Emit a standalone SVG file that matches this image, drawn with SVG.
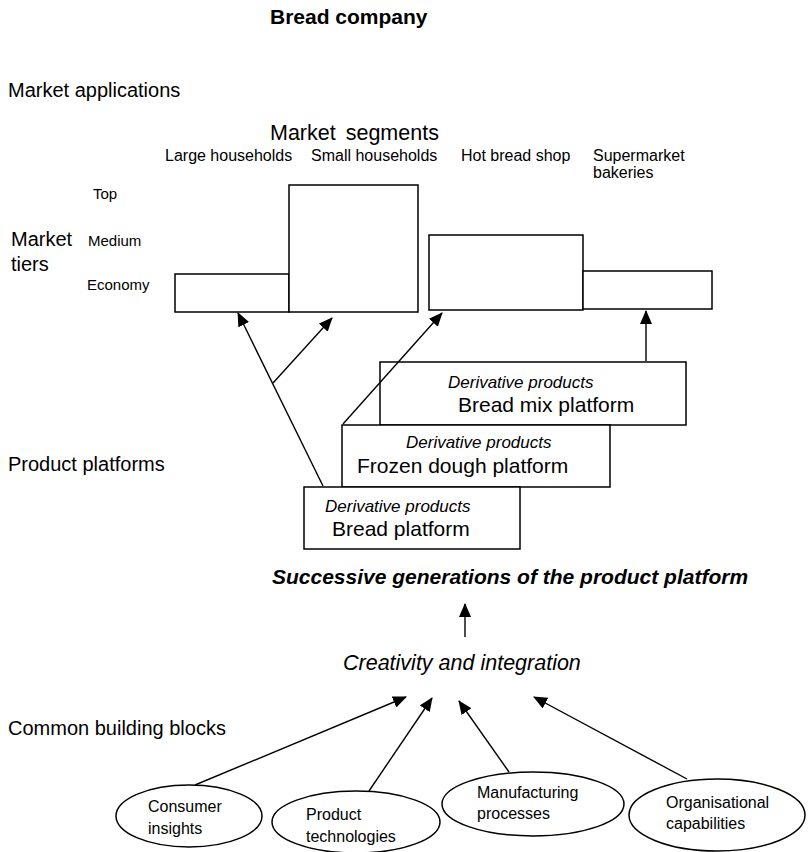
<svg xmlns="http://www.w3.org/2000/svg" width="810" height="852" viewBox="0 0 810 852">
<defs>
<marker id="ah" markerUnits="userSpaceOnUse" markerWidth="14" markerHeight="12" refX="13" refY="6" orient="auto">
<path d="M0,0 L14,6 L0,12 Z" fill="#000"/>
</marker>
<style>
text{font-family:"Liberation Sans",Arial,sans-serif;fill:#000}
.box{fill:#fff;stroke:#000;stroke-width:1.5}
.ell{fill:#fff;stroke:#000;stroke-width:1.5}
.con{stroke:#000;stroke-width:1.4;fill:none;marker-end:url(#ah)}
.side{font-size:20px}
.seg{font-size:16px}
.tier{font-size:15px}
.deriv{font-size:17px;font-style:italic}
.plat{font-size:21px}
.bb{font-size:16px}
</style>
</defs>
<rect width="810" height="852" fill="#fff"/>

<g id="title"><text x="270" y="24" font-weight="bold" font-size="21">Bread company</text></g>
<g id="labels">
<text class="side" x="8" y="97">Market applications</text>
<text x="270" y="140" font-size="21.5" word-spacing="4">Market segments</text>
<text class="seg" x="165" y="161">Large households</text>
<text class="seg" x="311" y="161">Small households</text>
<text class="seg" x="461" y="161">Hot bread shop</text>
<text class="seg" x="593" y="161">Supermarket</text>
<text class="seg" x="593" y="178">bakeries</text>
<text class="tier" x="93" y="199">Top</text>
<text class="side" x="11" y="246">Market</text>
<text class="side" x="11" y="271">tiers</text>
<text class="tier" x="88" y="246">Medium</text>
<text class="tier" x="87" y="290">Economy</text>
<text class="side" x="8" y="471">Product platforms</text>
<text class="side" x="8" y="735">Common building blocks</text>
</g>

<g id="segment-boxes">
<rect class="box" x="175" y="274" width="114" height="38"/>
<rect class="box" x="289" y="185" width="129" height="127"/>
<rect class="box" x="429" y="235" width="154" height="75"/>
<rect class="box" x="583" y="271" width="129" height="38"/>
</g>

<g id="bread-mix-platform">
<rect class="box" x="380" y="362" width="306" height="63"/>
<text class="deriv" x="448" y="388">Derivative products</text>
<text class="plat" x="458" y="412">Bread mix platform</text>
</g>
<g id="frozen-dough-platform">
<rect class="box" x="342" y="425" width="268" height="62"/>
<text class="deriv" x="406" y="448">Derivative products</text>
<text class="plat" x="357" y="473">Frozen dough platform</text>
</g>
<g id="bread-platform">
<rect class="box" x="304" y="487" width="216" height="62"/>
<text class="deriv" x="325" y="512">Derivative products</text>
<text class="plat" x="332" y="536">Bread platform</text>
</g>

<g id="successive"><text x="272" y="584" font-size="21" font-weight="bold" font-style="italic">Successive generations of the product platform</text></g>
<g id="creativity"><text x="343" y="670" font-size="21.5" font-style="italic">Creativity and integration</text></g>

<g id="consumer-insights">
<ellipse class="ell" cx="189" cy="816" rx="73" ry="31"/>
<text class="bb" x="148" y="812">Consumer</text>
<text class="bb" x="148" y="834">insights</text>
</g>
<g id="product-technologies">
<ellipse class="ell" cx="356" cy="822" rx="84" ry="31"/>
<text class="bb" x="306" y="820">Product</text>
<text class="bb" x="306" y="842">technologies</text>
</g>
<g id="manufacturing-processes">
<ellipse class="ell" cx="533" cy="804" rx="91" ry="32"/>
<text class="bb" x="477" y="798">Manufacturing</text>
<text class="bb" x="477" y="819">processes</text>
</g>
<g id="organisational-capabilities">
<ellipse class="ell" cx="717" cy="815" rx="88" ry="36"/>
<text class="bb" x="666" y="808">Organisational</text>
<text class="bb" x="666" y="829">capabilities</text>
</g>

<g id="connectors">
<line class="con" x1="323" y1="486" x2="238" y2="313"/>
<line class="con" x1="273" y1="383" x2="332" y2="318"/>
<line class="con" x1="343" y1="424" x2="442" y2="313"/>
<line class="con" x1="646" y1="361" x2="646" y2="311"/>
<line class="con" x1="465" y1="637" x2="465" y2="604"/>
<line class="con" x1="195" y1="785" x2="406" y2="697"/>
<line class="con" x1="369" y1="791" x2="432" y2="698"/>
<line class="con" x1="509" y1="772" x2="459" y2="701"/>
<line class="con" x1="687" y1="779" x2="534" y2="697"/>
</g>
</svg>
